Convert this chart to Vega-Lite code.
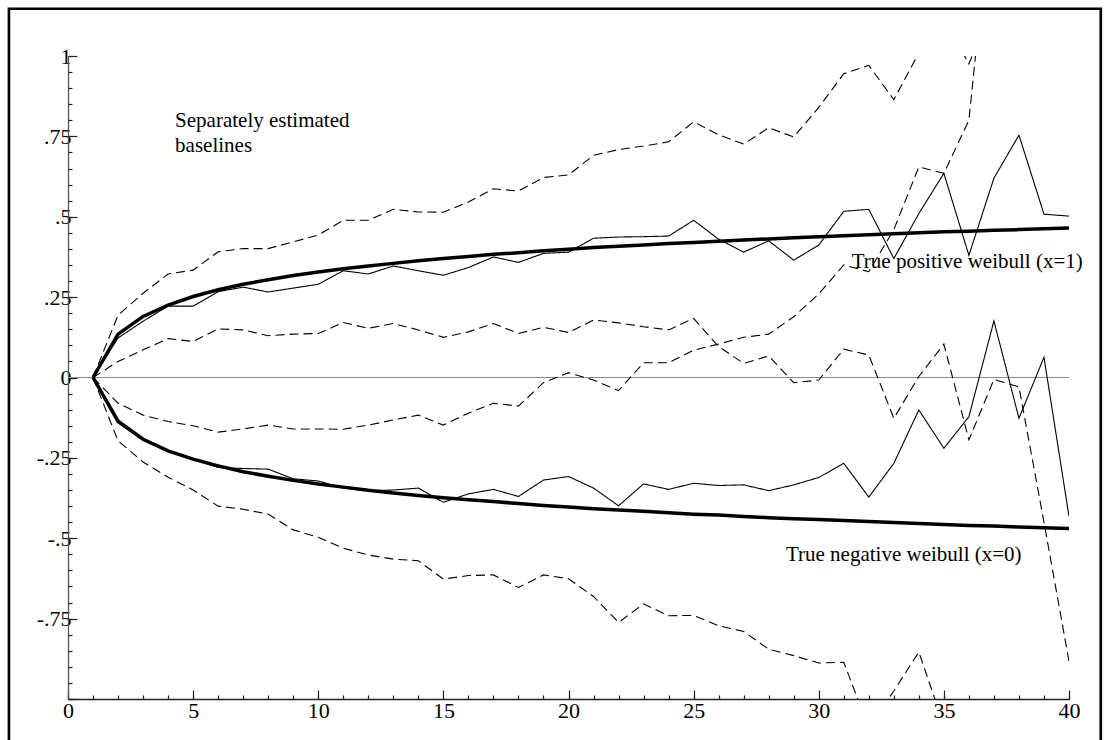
{
  "$schema": "https://vega.github.io/schema/vega-lite/v6.json",
  "width": 1001,
  "height": 643,
  "autosize": {"type": "none"},
  "padding": {"left": 68, "top": 56, "right": 40, "bottom": 41},
  "background": "white",
  "config": {
    "view": {"stroke": null},
    "axis": {"labelFont": "Liberation Serif", "labelFontSize": 22, "labelColor": "#000", "grid": false, "tickColor": "#222", "tickWidth": 1.2, "domainColor": "#333", "labelFlush": false, "labelOverlap": false, "title": null}
  },
  "datasets": {
    "curves": [
      {"t": 1, "pe": 0, "ph": 0, "pl": 0, "ne": 0, "nh": 0, "nl": 0, "pt": 0, "nt": 0},
      {"t": 2, "pe": 0.123, "ph": 0.194, "pl": 0.05, "ne": -0.141, "nh": -0.08, "nl": -0.197, "pt": 0.135, "nt": -0.136},
      {"t": 3, "pe": 0.175, "ph": 0.262, "pl": 0.086, "ne": -0.195, "nh": -0.117, "nl": -0.263, "pt": 0.19, "nt": -0.192},
      {"t": 4, "pe": 0.222, "ph": 0.322, "pl": 0.121, "ne": -0.228, "nh": -0.137, "nl": -0.31, "pt": 0.225, "nt": -0.228},
      {"t": 5, "pe": 0.222, "ph": 0.334, "pl": 0.112, "ne": -0.255, "nh": -0.15, "nl": -0.35, "pt": 0.252, "nt": -0.254},
      {"t": 6, "pe": 0.267, "ph": 0.391, "pl": 0.151, "ne": -0.28, "nh": -0.17, "nl": -0.4, "pt": 0.273, "nt": -0.275},
      {"t": 7, "pe": 0.281, "ph": 0.401, "pl": 0.148, "ne": -0.283, "nh": -0.16, "nl": -0.41, "pt": 0.29, "nt": -0.293},
      {"t": 8, "pe": 0.266, "ph": 0.401, "pl": 0.13, "ne": -0.285, "nh": -0.148, "nl": -0.425, "pt": 0.304, "nt": -0.307},
      {"t": 9, "pe": 0.278, "ph": 0.422, "pl": 0.135, "ne": -0.315, "nh": -0.16, "nl": -0.474, "pt": 0.317, "nt": -0.32},
      {"t": 10, "pe": 0.29, "ph": 0.443, "pl": 0.137, "ne": -0.322, "nh": -0.16, "nl": -0.497, "pt": 0.328, "nt": -0.331},
      {"t": 11, "pe": 0.332, "ph": 0.489, "pl": 0.171, "ne": -0.344, "nh": -0.161, "nl": -0.531, "pt": 0.338, "nt": -0.341},
      {"t": 12, "pe": 0.322, "ph": 0.489, "pl": 0.153, "ne": -0.352, "nh": -0.148, "nl": -0.552, "pt": 0.347, "nt": -0.351},
      {"t": 13, "pe": 0.347, "ph": 0.523, "pl": 0.168, "ne": -0.35, "nh": -0.132, "nl": -0.565, "pt": 0.355, "nt": -0.359},
      {"t": 14, "pe": 0.332, "ph": 0.515, "pl": 0.148, "ne": -0.344, "nh": -0.117, "nl": -0.57, "pt": 0.363, "nt": -0.367},
      {"t": 15, "pe": 0.318, "ph": 0.514, "pl": 0.125, "ne": -0.388, "nh": -0.148, "nl": -0.627, "pt": 0.37, "nt": -0.374},
      {"t": 16, "pe": 0.342, "ph": 0.546, "pl": 0.142, "ne": -0.362, "nh": -0.111, "nl": -0.616, "pt": 0.376, "nt": -0.38},
      {"t": 17, "pe": 0.375, "ph": 0.587, "pl": 0.168, "ne": -0.348, "nh": -0.08, "nl": -0.614, "pt": 0.383, "nt": -0.386},
      {"t": 18, "pe": 0.358, "ph": 0.58, "pl": 0.137, "ne": -0.37, "nh": -0.089, "nl": -0.653, "pt": 0.388, "nt": -0.392},
      {"t": 19, "pe": 0.386, "ph": 0.622, "pl": 0.156, "ne": -0.319, "nh": -0.016, "nl": -0.614, "pt": 0.394, "nt": -0.398},
      {"t": 20, "pe": 0.39, "ph": 0.63, "pl": 0.14, "ne": -0.308, "nh": 0.015, "nl": -0.626, "pt": 0.399, "nt": -0.403},
      {"t": 21, "pe": 0.433, "ph": 0.691, "pl": 0.179, "ne": -0.344, "nh": -0.008, "nl": -0.681, "pt": 0.404, "nt": -0.408},
      {"t": 22, "pe": 0.437, "ph": 0.709, "pl": 0.17, "ne": -0.399, "nh": -0.041, "nl": -0.762, "pt": 0.408, "nt": -0.412},
      {"t": 23, "pe": 0.438, "ph": 0.72, "pl": 0.158, "ne": -0.331, "nh": 0.046, "nl": -0.704, "pt": 0.412, "nt": -0.416},
      {"t": 24, "pe": 0.44, "ph": 0.733, "pl": 0.148, "ne": -0.348, "nh": 0.046, "nl": -0.741, "pt": 0.417, "nt": -0.421},
      {"t": 25, "pe": 0.489, "ph": 0.795, "pl": 0.184, "ne": -0.329, "nh": 0.085, "nl": -0.74, "pt": 0.42, "nt": -0.425},
      {"t": 26, "pe": 0.43, "ph": 0.755, "pl": 0.096, "ne": -0.336, "nh": 0.104, "nl": -0.772, "pt": 0.424, "nt": -0.428},
      {"t": 27, "pe": 0.39, "ph": 0.726, "pl": 0.044, "ne": -0.334, "nh": 0.125, "nl": -0.79, "pt": 0.428, "nt": -0.432},
      {"t": 28, "pe": 0.425, "ph": 0.777, "pl": 0.067, "ne": -0.352, "nh": 0.135, "nl": -0.845, "pt": 0.431, "nt": -0.436},
      {"t": 29, "pe": 0.365, "ph": 0.748, "pl": -0.016, "ne": -0.334, "nh": 0.189, "nl": -0.865, "pt": 0.435, "nt": -0.439},
      {"t": 30, "pe": 0.412, "ph": 0.84, "pl": -0.008, "ne": -0.311, "nh": 0.26, "nl": -0.888, "pt": 0.438, "nt": -0.442},
      {"t": 31, "pe": 0.517, "ph": 0.945, "pl": 0.088, "ne": -0.267, "nh": 0.35, "nl": -0.886, "pt": 0.441, "nt": -0.445},
      {"t": 32, "pe": 0.523, "ph": 0.971, "pl": 0.07, "ne": -0.372, "nh": 0.329, "nl": -1.09, "pt": 0.444, "nt": -0.448},
      {"t": 33, "pe": 0.37, "ph": 0.864, "pl": -0.127, "ne": -0.267, "nh": 0.46, "nl": -0.975, "pt": 0.447, "nt": -0.451},
      {"t": 34, "pe": 0.51, "ph": 1.01, "pl": 0.003, "ne": -0.101, "nh": 0.655, "nl": -0.854, "pt": 0.45, "nt": -0.454},
      {"t": 35, "pe": 0.635, "ph": 1.12, "pl": 0.104, "ne": -0.22, "nh": 0.635, "nl": -1.082, "pt": 0.453, "nt": -0.457},
      {"t": 36, "pe": 0.38, "ph": 0.975, "pl": -0.194, "ne": -0.122, "nh": 0.8, "nl": -1.3, "pt": 0.455, "nt": -0.46},
      {"t": 37, "pe": 0.62, "ph": 1.17, "pl": -0.006, "ne": 0.176, "nh": 1.56, "nl": -1.2, "pt": 0.458, "nt": -0.462},
      {"t": 38, "pe": 0.754, "ph": 1.4, "pl": -0.029, "ne": -0.127, "nh": 1.9, "nl": -1.5, "pt": 0.46, "nt": -0.465},
      {"t": 39, "pe": 0.508, "ph": 1.3, "pl": -0.45, "ne": 0.063, "nh": 2.1, "nl": -1.4, "pt": 0.463, "nt": -0.467},
      {"t": 40, "pe": 0.502, "ph": 1.5, "pl": -0.883, "ne": -0.432, "nh": 2.4, "nl": -1.9, "pt": 0.465, "nt": -0.47}
    ],
    "labels": [
      {"t": 4.28, "v": 0.778, "label": "Separately estimated\nbaselines"},
      {"t": 31.32, "v": 0.34, "label": "True positive weibull (x=1)"},
      {"t": 28.69, "v": -0.571, "label": "True negative weibull (x=0)"}
    ]
  },
  "resolve": {"axis": {"x": "independent", "y": "independent"}},
  "layer": [
    {
      "data": {"values": [{}]},
      "mark": {"type": "rule", "color": "#8a8a8a", "strokeWidth": 1},
      "encoding": {
        "y": {"datum": 0, "type": "quantitative", "scale": {"domain": [-1, 1], "nice": false, "zero": false}, "axis": null}
      }
    },
    {
      "data": {"name": "curves"},
      "transform": [{"fold": ["pe", "ph", "pl", "ne", "nh", "nl"], "as": ["key", "value"]}],
      "mark": {"type": "line", "clip": true, "strokeWidth": 1.1, "color": "black"},
      "encoding": {
        "x": {"field": "t", "type": "quantitative", "scale": {"domain": [0, 40], "nice": false, "zero": false},
          "axis": {"orient": "bottom", "values": [0, 5, 10, 15, 20, 25, 30, 35, 40], "tickSize": -9, "labelPadding": 10, "domainColor": "#222", "domainWidth": 1.3}},
        "y": {"field": "value", "type": "quantitative", "scale": {"domain": [-1, 1], "nice": false, "zero": false},
          "axis": {"orient": "left", "values": [-1, -0.75, -0.5, -0.25, 0, 0.25, 0.5, 0.75, 1], "tickSize": -9, "labelPadding": 6, "domainColor": "#555", "domainWidth": 1.3,
            "labelExpr": "datum.value < -0.99 ? '' : (datum.value < 0 ? '-' : '') + replace(format(abs(datum.value), '~g'), '0.', '.')"}},
        "detail": {"field": "key"},
        "strokeDash": {"field": "key", "type": "nominal", "legend": null,
          "scale": {"domain": ["pe", "ne", "ph", "pl", "nh", "nl"], "range": [[1, 0], [1, 0], [9, 5], [9, 5], [9, 5], [9, 5]]}}
      }
    },
    {
      "data": {"name": "curves"},
      "transform": [{"fold": ["pt", "nt"], "as": ["key", "value"]}],
      "mark": {"type": "line", "clip": true, "strokeWidth": 3.5, "color": "black"},
      "encoding": {
        "x": {"field": "t", "type": "quantitative", "scale": {"domain": [0, 40], "nice": false, "zero": false},
          "axis": {"orient": "bottom", "values": [0,1,2,3,4,5,6,7,8,9,10,11,12,13,14,15,16,17,18,19,20,21,22,23,24,25,26,27,28,29,30,31,32,33,34,35,36,37,38,39,40], "tickSize": -4, "labels": false, "domain": false}},
        "y": {"field": "value", "type": "quantitative", "scale": {"domain": [-1, 1], "nice": false, "zero": false},
          "axis": {"orient": "left", "values": [-1,-0.95,-0.9,-0.85,-0.8,-0.75,-0.7,-0.65,-0.6,-0.55,-0.5,-0.45,-0.4,-0.35,-0.3,-0.25,-0.2,-0.15,-0.1,-0.05,0,0.05,0.1,0.15,0.2,0.25,0.3,0.35,0.4,0.45,0.5,0.55,0.6,0.65,0.7,0.75,0.8,0.85,0.9,0.95,1], "tickSize": -4, "labels": false, "domain": false}},
        "detail": {"field": "key"}
      }
    },
    {
      "data": {"name": "labels"},
      "mark": {"type": "text", "font": "Liberation Serif", "fontSize": 21, "align": "left", "baseline": "alphabetic", "lineBreak": "\n", "lineHeight": 25, "color": "black", "clip": false},
      "encoding": {
        "x": {"field": "t", "type": "quantitative", "scale": {"domain": [0, 40], "nice": false, "zero": false}, "axis": null},
        "y": {"field": "v", "type": "quantitative", "scale": {"domain": [-1, 1], "nice": false, "zero": false}, "axis": null},
        "text": {"field": "label"}
      }
    },
    {
      "data": {"values": [{}]},
      "mark": {"type": "rect", "fillOpacity": 0, "fill": "white", "stroke": "black", "strokeWidth": 2.7, "clip": false},
      "encoding": {
        "x": {"datum": -2.36, "type": "quantitative", "scale": {"domain": [0, 40], "nice": false, "zero": false}, "axis": null},
        "x2": {"datum": 41.27},
        "y": {"datum": 1.147, "type": "quantitative", "scale": {"domain": [-1, 1], "nice": false, "zero": false}, "axis": null},
        "y2": {"datum": -1.3}
      }
    }
  ]
}
